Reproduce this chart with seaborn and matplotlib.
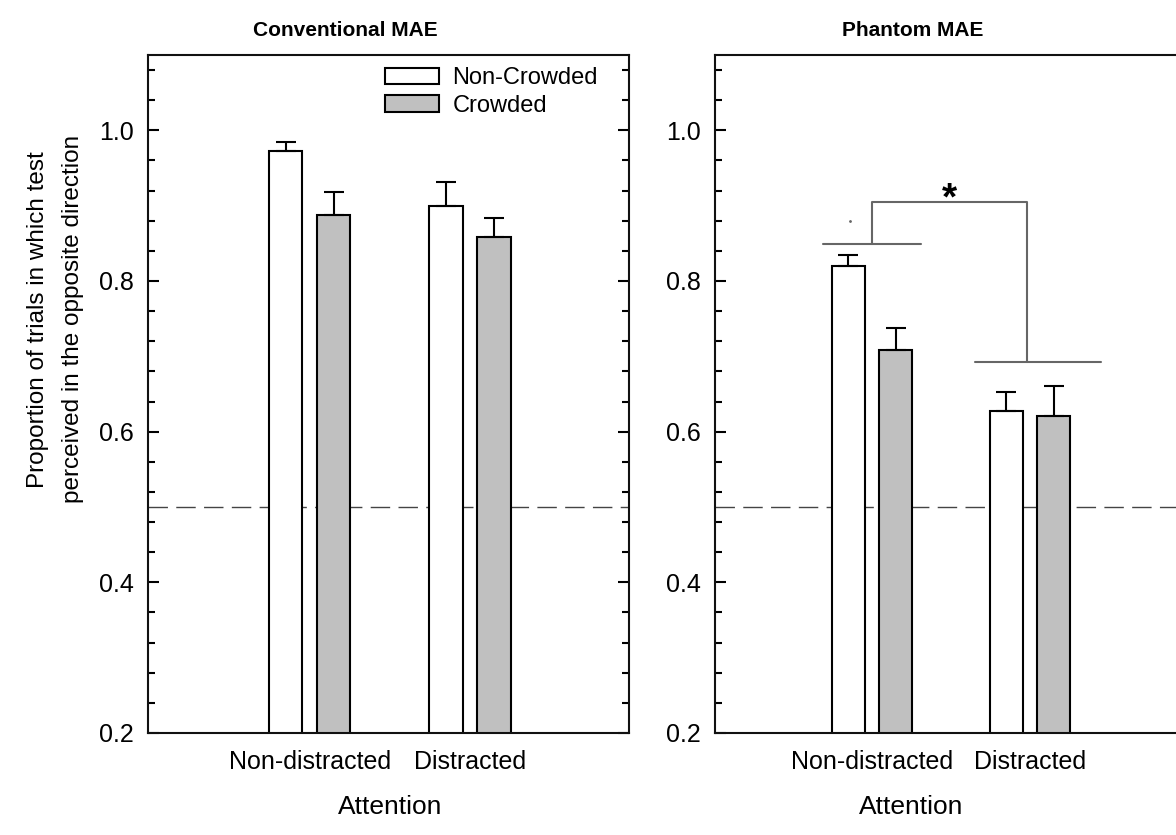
import pandas as pd
import matplotlib.pyplot as plt
import seaborn as sns
from matplotlib.ticker import MultipleLocator

# =============================
# DATA
# =============================
attention = ['Non-distracted', 'Distracted']
crowding = ['Non-Crowded', 'Crowded']

# order: Non-Crowded (Non-distracted, Distracted), Crowded (Non-distracted, Distracted)
conv_mean = [0.972, 0.899, 0.888, 0.858]
conv_err = [0.012, 0.033, 0.030, 0.025]
phantom_mean = [0.820, 0.627, 0.709, 0.621]
phantom_err = [0.015, 0.025, 0.029, 0.039]

chance_level = 0.5
bracket_low = [0.849, 0.692]
bracket_top = 0.905


def make_df(means, errs):
    rows = []
    i = 0
    for c in crowding:
        for a in attention:
            rows.append({'Attention': a, 'Crowding': c, 'Prop': means[i], 'Err': errs[i]})
            i += 1
    return pd.DataFrame(rows)


conv_df = make_df(conv_mean, conv_err)
phantom_df = make_df(phantom_mean, phantom_err)

# =============================
# STYLE
# =============================
sns.set_style('ticks')
plt.rcParams['font.family'] = ['Liberation Sans', 'DejaVu Sans']
plt.rcParams['text.color'] = 'black'
plt.rcParams['axes.labelcolor'] = 'black'
plt.rcParams['xtick.color'] = 'black'
plt.rcParams['ytick.color'] = 'black'

fig = plt.figure(figsize=(11.76, 8.35), dpi=100)
ax1 = fig.add_axes([148 / 1176, 102 / 835, 481 / 1176, 678 / 835])
ax2 = fig.add_axes([715 / 1176, 102 / 835, 485 / 1176, 678 / 835])

palette = {'Non-Crowded': 'white', 'Crowded': '#c0c0c0'}


def draw_panel(ax, df, title, title_x, show_legend):
    sns.barplot(data=df, x='Attention', y='Prop', hue='Crowding',
                order=attention, hue_order=crowding, palette=palette,
                width=0.6, gap=0.3, edgecolor='black', linewidth=1.5,
                errorbar=None, legend=show_legend, ax=ax)
    # upper-only error bars on top of each bar
    for cont, c in zip(ax.containers, crowding):
        sub = df[df['Crowding'] == c].set_index('Attention').loc[attention]
        xs = [p.get_x() + p.get_width() / 2 for p in cont.patches]
        ax.errorbar(xs, sub['Prop'], yerr=[[0] * len(xs), sub['Err']],
                    fmt='none', ecolor='black', elinewidth=1.5,
                    capsize=7.5, capthick=1.5, zorder=1)
    ax.axhline(chance_level, color='#444444', lw=1.0, dashes=(14, 6), zorder=0)

    ax.set_ylim(0.2, 1.1)
    ax.yaxis.set_major_locator(MultipleLocator(0.2))
    ax.yaxis.set_minor_locator(MultipleLocator(0.04))
    ax.set_yticks([0.2, 0.4, 0.6, 0.8, 1.0])
    ax.tick_params(axis='y', which='both', direction='in', left=True, right=True,
                   width=1.5, labelsize=18, pad=10)
    ax.tick_params(axis='y', which='major', length=8)
    ax.tick_params(axis='y', which='minor', length=5)
    ax.tick_params(axis='x', length=0, labelsize=18, pad=12)
    for s in ax.spines.values():
        s.set_visible(True)
        s.set_linewidth(1.5)
        s.set_color('#111111')

    ax.set_title(title, fontsize=15, fontweight='bold', x=title_x, pad=14)
    ax.set_xlabel('Attention', fontsize=19)
    ax.set_ylabel('')


draw_panel(ax1, conv_df, 'Conventional MAE', 0.41, True)
draw_panel(ax2, phantom_df, 'Phantom MAE', 0.407, False)

ax1.set_xlim(-1.01, 1.995)
ax2.set_xlim(-0.994, 2.076)

ax1.xaxis.set_label_coords(0.503, -0.092)
ax2.xaxis.set_label_coords(0.405, -0.092)

ax1.set_ylabel('Proportion of trials in which test\nperceived in the opposite direction',
               fontsize=17.5, linespacing=1.75)
ax1.yaxis.set_label_coords(-0.134, 0.61)

sns.move_legend(ax1, loc='upper left', bbox_to_anchor=(0.493, 0.982), title=None,
                frameon=False, fontsize=17, handlelength=2.3, handleheight=0.72,
                handletextpad=0.55, labelspacing=0.25, borderpad=0, borderaxespad=0)

# significance bracket on the Phantom MAE panel
br = '#666666'
ax2.plot([-0.31, 0.31], [bracket_low[0]] * 2, color=br, lw=1.5)
ax2.plot([0.65, 1.45], [bracket_low[1]] * 2, color=br, lw=1.5)
ax2.plot([0.0, 0.0, 0.98, 0.98], [bracket_low[0], bracket_top, bracket_top, bracket_low[1]],
         color=br, lw=1.5)
ax2.text(0.49, 0.908, '*', ha='center', va='center', fontsize=28,
         fontweight='bold')
ax2.plot([-0.14], [0.88], marker='.', ms=2, color='#666666')

plt.savefig('out.png', dpi=100)
plt.close()
